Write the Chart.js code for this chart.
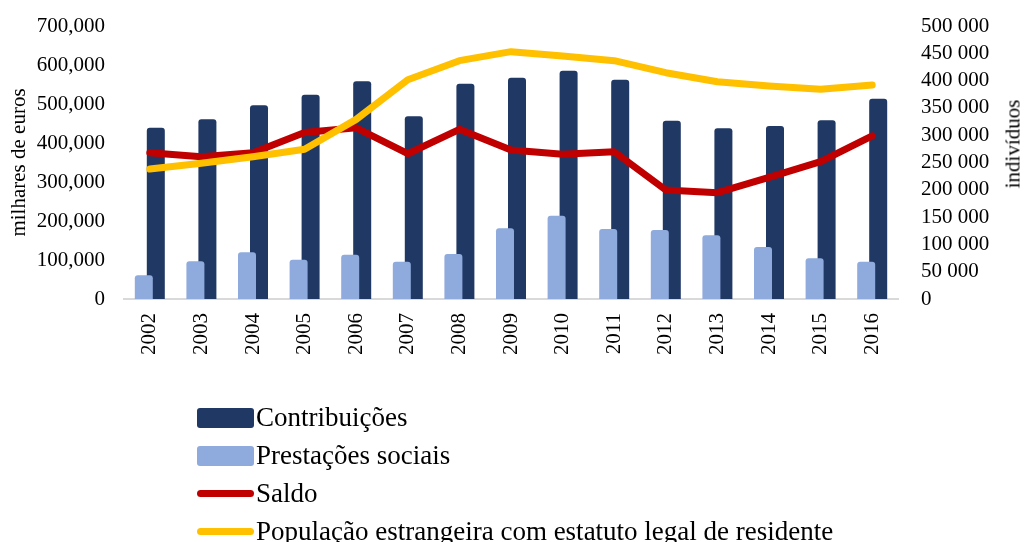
<!DOCTYPE html>
<html lang="pt">
<head>
  <meta charset="UTF-8" />
  <title>Contribuições, prestações sociais e população estrangeira</title>
  <script src="https://cdn.jsdelivr.net/npm/chart.js"></script>
  <style>
    body {
      margin: 0;
      background: #ffffff;
      font-family: 'Liberation Serif', 'Times New Roman', serif;
      color: #000;
    }
    .quadro {
      position: relative;
      width: 1025px;
      height: 542px;
      overflow: hidden;
    }
    #grafico {
      position: absolute;
      left: 0;
      top: 0;
    }
    .titulo-dir {
      position: absolute;
      left: 1013px;
      top: 144px;
      font-size: 21px;
      white-space: nowrap;
      transform: translate(-50%, -50%) rotate(-90deg);
    }
    .item {
      position: absolute;
      left: 197px;
      height: 38px;
      display: flex;
      align-items: center;
      white-space: nowrap;
      font-size: 27px;
    }
    .caixa {
      width: 57px;
      height: 20px;
      border-radius: 3px;
      margin-right: 2px;
    }
    .linha {
      width: 57px;
      height: 7px;
      border-radius: 4px;
      margin-right: 2px;
    }
  </style>
</head>
<body>
  <div class="quadro">
    <canvas id="grafico" width="1025" height="542"></canvas>
    <div class="titulo-dir">indivíduos</div>
    <div id="legenda"></div>
  </div>

  <script>
    // dados
    const anos = ['2002', '2003', '2004', '2005', '2006', '2007', '2008', '2009', '2010', '2011', '2012', '2013', '2014', '2015', '2016'];
    const contribuicoes = [439000, 460700, 496600, 523900, 558100, 468400, 552100, 567500, 585500, 562400, 457300, 437600, 443600, 458100, 513700];
    const prestacoes = [60700, 96600, 119700, 100900, 113700, 95700, 115400, 181200, 213700, 179500, 176900, 163200, 133300, 104300, 95700];
    const saldo = [375200, 364900, 375000, 427000, 439000, 372500, 435000, 382000, 371000, 377700, 279500, 272600, 312000, 352000, 418000];
    const populacao = [238100, 248500, 260600, 274200, 329000, 401500, 436500, 453000, 445000, 436500, 414500, 398000, 390100, 384000, 392000];

    const rotulosEsq = ['0', '100,000', '200,000', '300,000', '400,000', '500,000', '600,000', '700,000'];
    const rotulosDir = ['0', '50 000', '100 000', '150 000', '200 000', '250 000', '300 000', '350 000', '400 000', '450 000', '500 000'];

    const cores = {
      contribuicoes: '#203864',
      prestacoes: '#8faadc',
      saldo: '#c00000',
      populacao: '#ffc000'
    };

    const fonte = { family: "'Liberation Serif', 'Times New Roman', serif", size: 21 };

    const series = [
      { label: 'Contribuições', tipo: 'caixa', cor: cores.contribuicoes },
      { label: 'Prestações sociais', tipo: 'caixa', cor: cores.prestacoes },
      { label: 'Saldo', tipo: 'linha', cor: cores.saldo },
      { label: 'População estrangeira com estatuto legal de residente', tipo: 'linha', cor: cores.populacao }
    ];

    function montarLegenda() {
      const legenda = document.getElementById('legenda');
      const centros = [417.5, 455.5, 493.3, 531];
      series.forEach((s, i) => {
        const item = document.createElement('div');
        item.className = 'item';
        item.style.top = (centros[i] - 19) + 'px';
        const marca = document.createElement('span');
        marca.className = s.tipo;
        marca.style.background = s.cor;
        const texto = document.createElement('span');
        texto.textContent = s.label;
        item.appendChild(marca);
        item.appendChild(texto);
        legenda.appendChild(item);
      });
    }

    // largura fixa dos eixos verticais e sem folga extra em cima
    function ajustarEixo(largura) {
      return s => {
        s.width = largura;
        s.paddingTop = 10;
        s.paddingBottom = 0;
      };
    }

    function desenharGrafico() {
      const ctx = document.getElementById('grafico').getContext('2d');
      new Chart(ctx, {
        type: 'bar',
        data: {
          labels: anos,
          datasets: [
            {
              type: 'line',
              label: series[3].label,
              data: populacao,
              yAxisID: 'y1',
              borderColor: cores.populacao,
              backgroundColor: cores.populacao,
              borderWidth: 7,
              borderJoinStyle: 'round',
              borderCapStyle: 'round',
              pointRadius: 0,
              tension: 0,
              order: 0
            },
            {
              type: 'line',
              label: series[2].label,
              data: saldo,
              yAxisID: 'y',
              borderColor: cores.saldo,
              backgroundColor: cores.saldo,
              borderWidth: 7,
              borderJoinStyle: 'round',
              borderCapStyle: 'round',
              pointRadius: 0,
              tension: 0,
              order: 1
            },
            {
              label: series[1].label,
              data: prestacoes,
              yAxisID: 'y',
              backgroundColor: cores.prestacoes,
              borderRadius: 3,
              categoryPercentage: 0.465,
              barPercentage: 1.5,
              order: 2
            },
            {
              label: series[0].label,
              data: contribuicoes,
              yAxisID: 'y',
              backgroundColor: cores.contribuicoes,
              borderRadius: 3,
              categoryPercentage: 0.465,
              barPercentage: 1.5,
              order: 3
            }
          ]
        },
        options: {
          responsive: false,
          animation: false,
          layout: { padding: { top: 26, left: 0, right: 0, bottom: 0 } },
          plugins: {
            legend: { display: false },
            tooltip: { enabled: false }
          },
          scales: {
            x: {
              grid: { display: false, drawTicks: false },
              border: { color: '#d9d9d9', width: 2 },
              ticks: {
                font: fonte,
                color: '#000',
                minRotation: 90,
                maxRotation: 90,
                autoSkip: false,
                padding: 14
              },
              afterFit: s => { s.height = 243; }
            },
            y: {
              position: 'left',
              min: 0,
              max: 700000,
              grid: { display: false, drawTicks: false },
              border: { display: false },
              ticks: {
                stepSize: 100000,
                autoSkip: false,
                font: fonte,
                color: '#000',
                padding: 19,
                callback: (v, i) => rotulosEsq[i]
              },
              title: {
                display: true,
                text: 'milhares de euros',
                font: fonte,
                color: '#000',
                padding: { top: 7, bottom: 0 }
              },
              afterFit: ajustarEixo(124)
            },
            y1: {
              position: 'right',
              min: 0,
              max: 500000,
              grid: { display: false, drawTicks: false },
              border: { display: false },
              ticks: {
                stepSize: 50000,
                autoSkip: false,
                font: fonte,
                color: '#000',
                padding: 23,
                callback: (v, i) => rotulosDir[i]
              },
              afterFit: ajustarEixo(127)
            }
          }
        }
      });
    }

    window.onload = () => {
      montarLegenda();
      desenharGrafico();
    };
  </script>
</body>
</html>
